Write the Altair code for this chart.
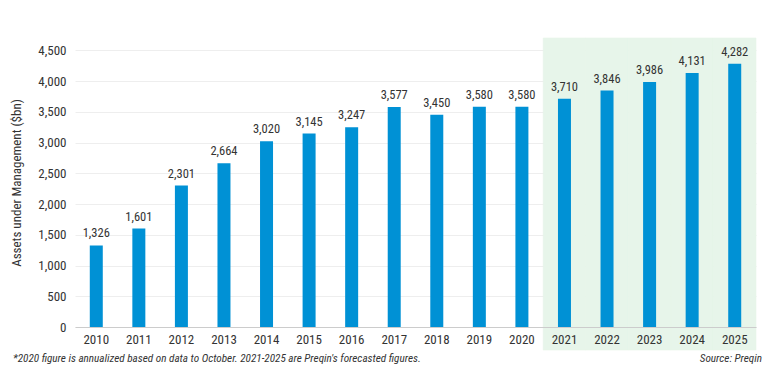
import altair as alt
import pandas as pd

years = [str(y) for y in range(2010, 2026)]
aum = [1326, 1601, 2301, 2664, 3020, 3145, 3247, 3577, 3450, 3580, 3580,
       3710, 3846, 3986, 4131, 4282]
forecast_years = ["2021", "2022", "2023", "2024", "2025"]
shade_low = -375
shade_high = 4700
y_ticks = [0, 500, 1000, 1500, 2000, 2500, 3000, 3500, 4000, 4500]
y_title = "Assets under Management ($bn)"
footnote = "*2020 figure is annualized based on data to October. 2021-2025 are Preqin's forecasted figures."
source = "Source: Preqin"

FONT = "'Liberation Sans Narrow', 'Roboto Condensed', 'DejaVu Sans Condensed', Roboto, sans-serif"
TEXT = "#333333"
BAR = "#0091d5"
SHADE = "#e7f5ea"

df = pd.DataFrame({"year": years, "aum": aum})
shade = pd.DataFrame({"year": forecast_years,
                      "lo": [shade_low] * len(forecast_years),
                      "hi": [shade_high] * len(forecast_years)})
notes = pd.DataFrame({"t": [footnote]})
src = pd.DataFrame({"t": [source]})

xscale = alt.Scale(domain=years, paddingInner=0, paddingOuter=0)
yscale = alt.Scale(domain=[0, 4700], nice=False)

xaxis = alt.Axis(labelAngle=0, ticks=False, domainColor="#cccccc", labelPadding=6,
                 title=None, labelFontSize=13, zindex=1)
yaxis = alt.Axis(values=y_ticks, format=",.0f", ticks=False, domain=False,
                 gridColor="#eeeeee", labelPadding=9, titlePadding=14,
                 labelFontSize=13, titleFontSize=13, titleFontWeight="normal",
                 labelOverlap=False)

shade_layer = alt.Chart(shade).mark_rect(color=SHADE, stroke=SHADE, strokeWidth=0.6).encode(
    x=alt.X("year:N", scale=xscale, axis=xaxis, sort=years, title=None),
    y=alt.Y("lo:Q", scale=yscale, axis=yaxis, title=y_title),
    y2="hi:Q",
)

bars = alt.Chart(df).mark_bar(size=13, color=BAR).encode(
    x=alt.X("year:N", scale=xscale, axis=xaxis, sort=years, title=None),
    y=alt.Y("aum:Q", scale=yscale, axis=yaxis, title=y_title),
)

labels = alt.Chart(df).mark_text(dy=-5, baseline="bottom", fontSize=12.5,
                                 color=TEXT, font=FONT).encode(
    x=alt.X("year:N", scale=xscale, axis=xaxis, sort=years, title=None),
    y=alt.Y("aum:Q", scale=yscale, axis=yaxis, title=y_title),
    text=alt.Text("aum:Q", format=","),
)

note_layer = alt.Chart(notes).mark_text(align="left", baseline="middle", fontStyle="italic",
                                        fontSize=11.2, color=TEXT, font=FONT).encode(
    x=alt.value(-62), y=alt.value(321), text="t:N")

src_layer = alt.Chart(src).mark_text(align="right", baseline="middle", fontStyle="italic",
                                     fontSize=11.2, color=TEXT, font=FONT).encode(
    x=alt.value(687), y=alt.value(321), text="t:N")

chart = alt.layer(shade_layer, bars, labels, note_layer, src_layer).properties(
    width=681, height=289,
    background="white",
    autosize=alt.AutoSizeParams(type="none"),
    padding={"left": 67, "top": 30, "right": 11, "bottom": 46},
).configure_view(stroke="transparent", strokeWidth=0).configure_axis(
    labelFont=FONT, titleFont=FONT, labelColor=TEXT, titleColor=TEXT
)

chart.save("out.html", embed_options={"renderer": "svg", "actions": False})
